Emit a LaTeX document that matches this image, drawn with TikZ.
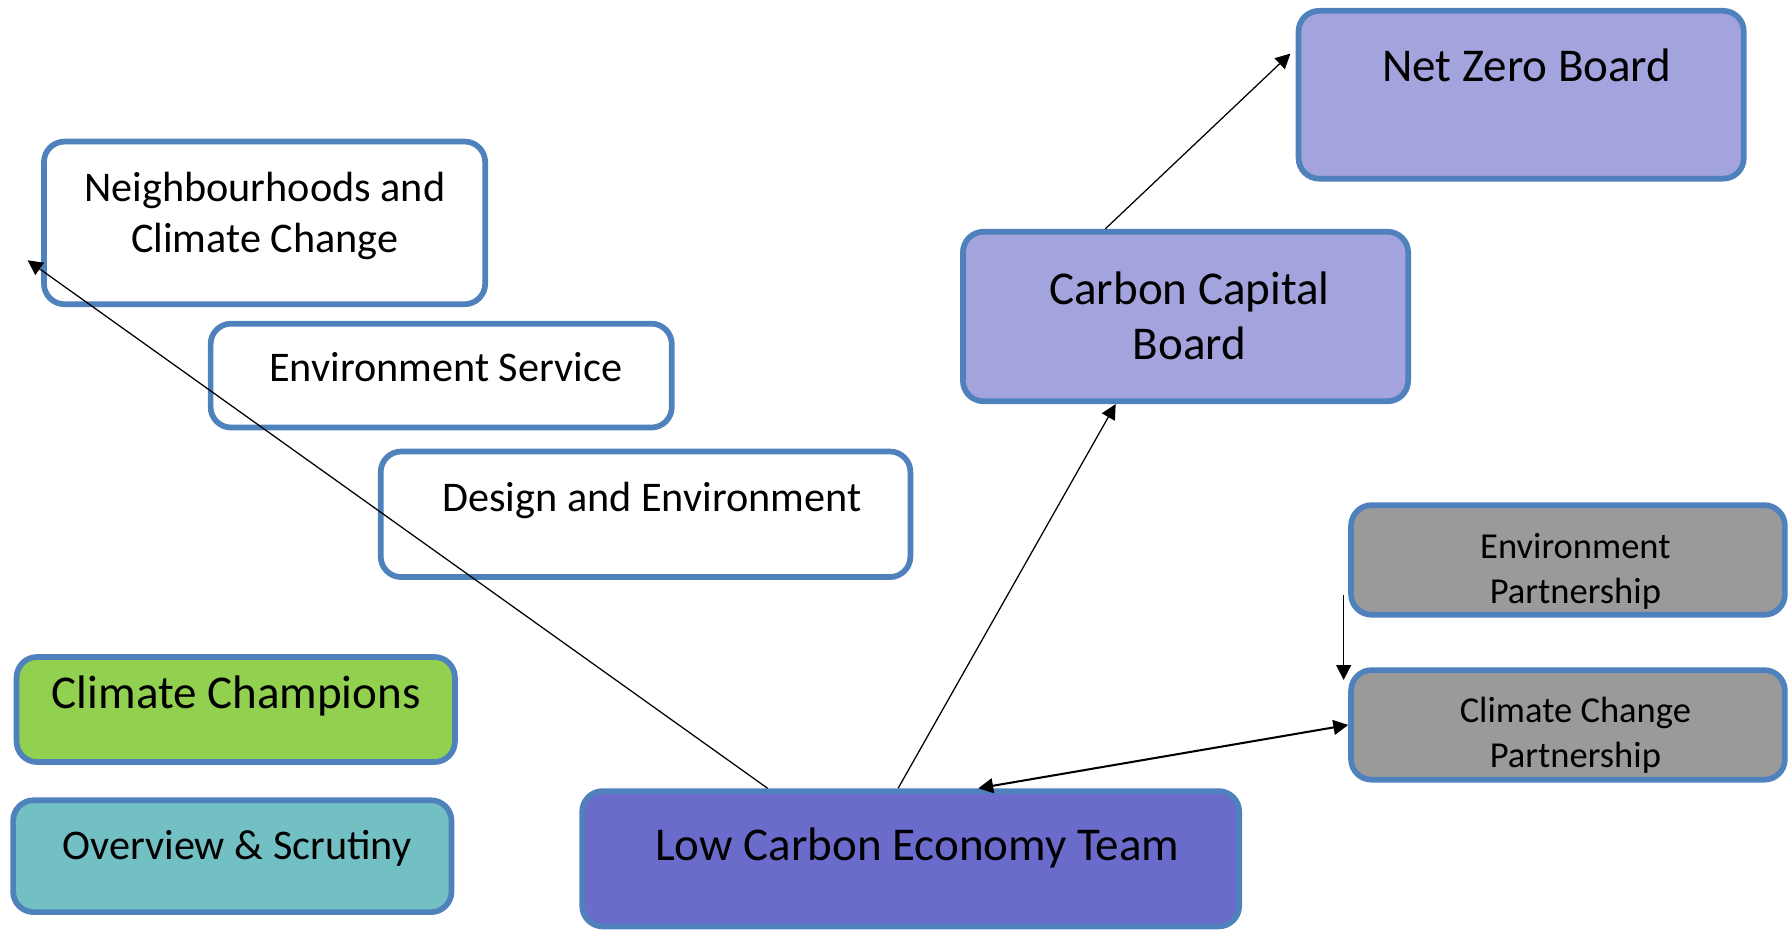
\documentclass[tikz,border=0pt]{standalone}
\usepackage{fontspec}
\setmainfont{Carlito}
\usetikzlibrary{arrows.meta,calc}
\definecolor{edgeblue}{HTML}{4F81BD}
\definecolor{boardlilac}{HTML}{A3A3DD}
\definecolor{teamblue}{HTML}{6B6BCC}
\definecolor{partgrey}{HTML}{9A9A9A}
\definecolor{champgreen}{HTML}{92D050}
\definecolor{scrutteal}{HTML}{72BFC4}
\tikzset{
  box/.style={draw=edgeblue, line width=2.5pt, rounded corners=9pt, inner sep=0pt},
  bigtext/.style={font=\fontsize{20.6}{24.25}\selectfont, align=center, anchor=base},
  midtext/.style={font=\fontsize{18.5}{22.6}\selectfont, align=center, anchor=base},
  smalltext/.style={font=\fontsize{16}{19.7}\selectfont, align=center, anchor=base},
  link/.style={-{Triangle[length=6.5pt,width=6.5pt]}, line width=0.55pt}
}

\begin{document}
\begin{tikzpicture}[x=0.5pt,y=-0.5pt]
				\useasboundingbox (0,0) rectangle (1568,815);
				\node[box, fill=boardlilac, minimum width=195pt, minimum height=73.5pt] (nzb) at (1332.5,83) {};
				\node[box, fill=boardlilac, minimum width=195pt, minimum height=74.25pt] (ccb) at (1038.5,277.25) {};
				\node[box, fill=white, minimum width=193.25pt, minimum height=71.25pt] (ncc) at (231.75,195.25) {};
				\node[box, fill=white, minimum width=202pt, minimum height=45.5pt] (env) at (386.5,329) {};
				\node[box, fill=white, minimum width=232pt, minimum height=55pt] (dae) at (565.5,450.5) {};
				\node[box, fill=partgrey, minimum width=190pt, minimum height=48pt] (epa) at (1373.5,490.5) {};
				\node[box, fill=partgrey, minimum width=190pt, minimum height=48pt] (ccp) at (1373.5,635) {};
				\node[box, fill=champgreen, minimum width=192pt, minimum height=46pt] (cch) at (206.5,621.5) {};
				\node[box, fill=scrutteal, minimum width=192pt, minimum height=49pt] (ovs) at (203.5,750) {};
				\node[box, fill=teamblue, minimum width=287.75pt, minimum height=59.25pt] (lcet) at (797.75,752.25) {};
				\node[bigtext] (nzbtext) at (1337.5,71.4) {Net Zero Board};
				\node[bigtext] (ccbtext) at (1042,315) {Carbon Capital\\Board};
				\node[midtext] (ncctext) at (232,221.3) {Neighbourhoods and\\Climate Change};
				\node[midtext] (envtext) at (390.5,334.6) {Environment Service};
				\node[midtext] (daetext) at (571,448.2) {Design and Environment};
				\node[smalltext] (epatext) at (1380,529) {Environment\\Partnership};
				\node[smalltext] (ccptext) at (1380,672.1) {Climate Change\\Partnership};
				\node[bigtext] (cchtext) at (207,620.5) {Climate Champions};
				\node[midtext] (ovstext) at (207.5,753.3) {Overview \& Scrutiny};
				\node[bigtext] (lcettext) at (803.5,753.8) {Low Carbon Economy Team};
				\coordinate (ncctip) at ($(ncc.north west)+(-11.8,106.5)$);
				\coordinate (nzbtip) at ($(nzb.north west)+(-4.6,39.9)$);
				\coordinate (epafoot) at ($(epa.south west)+(-4,-19.8)$);
				\coordinate (ccptip) at ($(ccp.north west)+(-4,11.1)$);
				\draw[link] ($(lcet.north west)!0.284!(lcet.north east)$) -- (ncctip);
				\draw[link] ($(lcet.north west)!0.481!(lcet.north east)$) -- ($(ccb.south west)!0.345!(ccb.south east)$);
				\draw[link] ($(ccb.north west)!0.322!(ccb.north east)$) -- (nzbtip);
				\draw[link] (epafoot) -- (ccptip);
				\draw[link, {Triangle[length=6.5pt,width=6.5pt]}-{Triangle[length=6.5pt,width=6.5pt]}, line width=0.9pt] ($(lcet.north west)!0.602!(lcet.north east)$) -- (ccp.west);
			\end{tikzpicture}
\end{document}
